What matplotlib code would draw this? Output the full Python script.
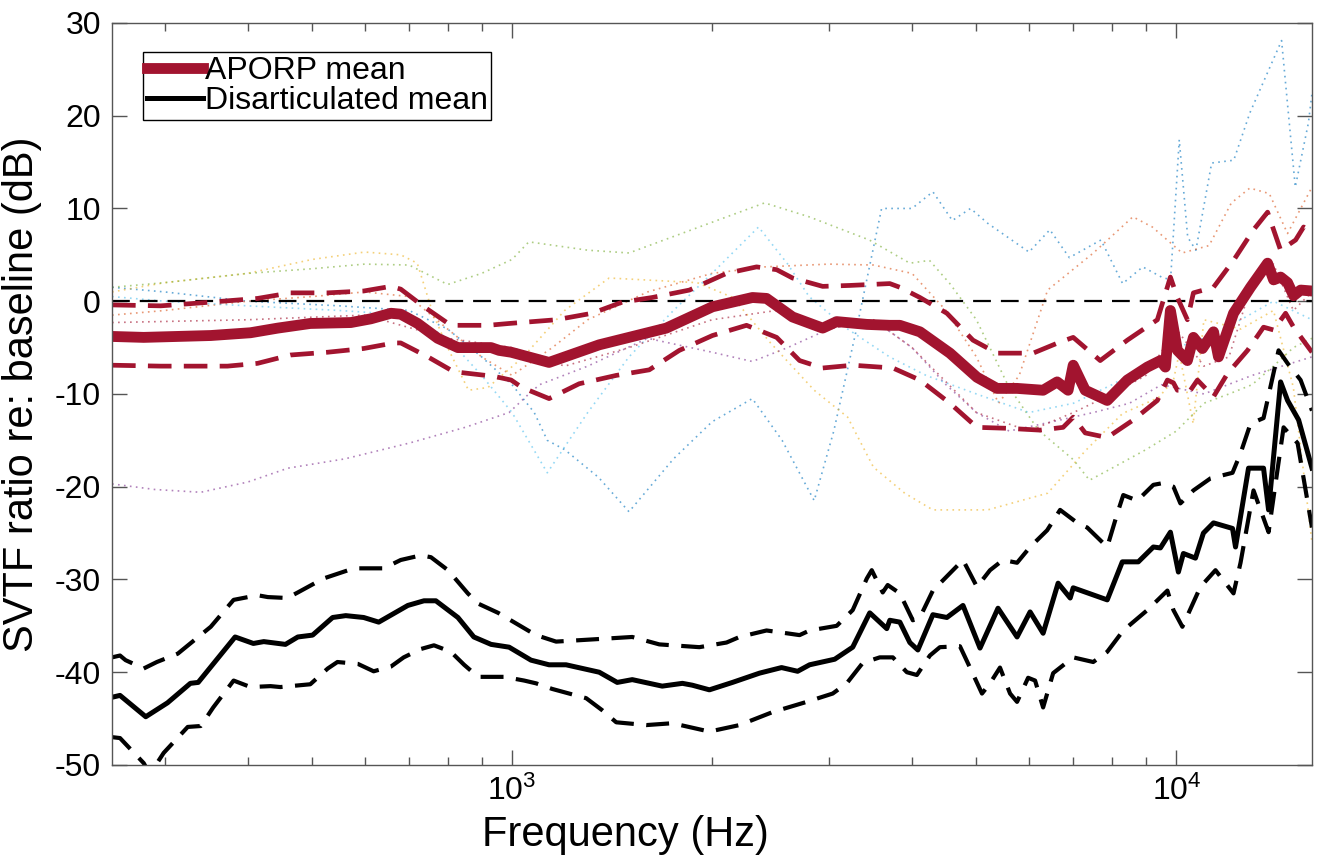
import matplotlib
matplotlib.use('Agg')
import matplotlib.pyplot as plt
from matplotlib.ticker import LogLocator, FuncFormatter, NullFormatter

# values: frequency in Hz, level in dB
aporp_f = [250, 279, 352, 404, 444, 497, 572, 613, 657, 680, 721, 773, 829, 930, 956, 997,
           1137, 1353, 1707, 2003, 2301, 2416, 2644, 2935, 3081, 3420, 3704, 3835, 4111, 4562,
           5010, 5370, 5757, 6301, 6615, 6871, 6994, 7291, 7869, 8436, 9044, 9461, 9626, 9795,
           10035, 10389, 10608, 10944, 11373, 11571, 12190, 12930, 13718, 14006, 14351, 14702,
           15012, 15381, 16000]
aporp_mean = [-3.8, -3.9, -3.7, -3.4, -2.9, -2.4, -2.3, -1.9, -1.3, -1.4, -2.4, -4.0, -5.0, -5.0, -5.3, -5.5,
              -6.6, -4.7, -2.9, -0.6, 0.4, 0.3, -1.7, -2.9, -2.2, -2.5, -2.6, -2.6, -3.3, -5.6,
              -8.2, -9.4, -9.4, -9.6, -8.7, -9.6, -6.9, -9.6, -10.7, -8.5, -7.1, -6.4, -7.1, -1.0,
              -5.3, -6.4, -3.9, -5.1, -3.3, -6.0, -1.3, 1.5, 4.1, 2.3, 2.6, 2.0,
              0.6, 1.2, 1.1]

aporp_hi_f = [250, 296, 352, 414, 464, 528, 598, 657, 680, 737, 809, 920, 990, 1165, 1320, 1465,
              1626, 1849, 2103, 2334, 2502, 2644, 2935, 3223, 3704, 3835, 4111, 4514, 4941, 5370,
              6086, 6683, 6994, 7680, 8436, 9362, 9795, 10035, 10389, 10608, 11373, 12190, 13065,
              13718, 14351, 15117, 15543, 16000]
aporp_hi = [-0.4, -0.5, -0.1, 0.3, 0.9, 0.9, 1.1, 1.6, 1.3, -0.6, -2.6, -2.6, -2.4, -2.0, -1.3, -0.1,
            0.4, 1.2, 3.0, 3.7, 3.4, 2.5, 1.6, 1.7, 1.9, 1.5, 0.4, -1.3, -4.2, -5.6,
            -5.6, -4.4, -3.9, -6.4, -4.2, -2.0, 2.6, 0.4, -2.0, 0.9, 1.5, 4.4, 7.7,
            9.6, 5.5, 6.6, 8.0, 7.5]

aporp_lo_f = [250, 296, 373, 414, 464, 528, 598, 664, 680, 747, 817, 939, 997, 1035, 1137, 1262,
              1435, 1609, 1786, 2003, 2254, 2502, 2709, 2935, 3257, 3743, 4111, 4562, 5010, 5559,
              6236, 6753, 6994, 7291, 7869, 8613, 9362, 9693, 9898, 10035, 10500, 10757, 11373,
              11938, 12797, 13527, 14006, 14601, 15012, 16000]
aporp_lo = [-6.9, -7.0, -7.0, -6.7, -5.8, -5.5, -5.1, -4.5, -4.5, -6.0, -7.6, -8.1, -8.5, -9.3, -10.5, -8.9,
            -8.0, -7.4, -5.3, -3.7, -2.6, -3.9, -6.4, -7.2, -6.9, -7.2, -8.5, -11.0, -13.6, -13.7,
            -13.9, -13.6, -12.5, -14.2, -14.7, -12.8, -10.7, -8.5, -8.8, -9.6, -9.6, -8.5, -10.3,
            -7.8, -5.3, -2.8, -3.1, -1.3, -2.8, -5.5]

dis_f = [250, 257, 281, 303, 328, 337, 383, 408, 423, 456, 476, 501, 537, 562, 598, 630, 697, 737,
         768, 829, 876, 930, 990, 1068, 1137, 1206, 1353, 1440, 1517, 1683, 1805, 1868, 1982, 2147,
         2358, 2545, 2691, 2805, 3060, 3257, 3455, 3665, 3704, 3835, 3970, 4082, 4300, 4514, 4773,
         5063, 5389, 5757, 6023, 6301, 6637, 6921, 6994, 7869, 8291, 8764, 9233, 9461, 9795, 10070,
         10246, 10683, 10982, 11373, 12148, 12275, 12841, 13527, 13765, 14351, 14702, 15275, 16000]
dis_mean = [-42.7, -42.5, -44.8, -43.3, -41.2, -41.1, -36.2, -36.9, -36.7, -37.0, -36.2, -36.0, -34.1, -33.9, -34.1, -34.6, -32.8, -32.3,
            -32.3, -34.1, -36.2, -37.0, -37.3, -38.7, -39.2, -39.2, -40.0, -41.1, -40.8, -41.5, -41.2, -41.4, -41.9, -41.1,
            -40.1, -39.5, -39.9, -39.2, -38.6, -37.3, -33.6, -35.3, -34.4, -34.6, -36.8, -37.6, -33.8, -34.1, -32.8,
            -37.4, -33.1, -36.2, -33.5, -35.8, -30.4, -32.0, -30.9, -32.2, -28.1, -28.1, -26.5, -26.6, -24.9, -29.2,
            -27.2, -27.7, -25.0, -23.9, -24.5, -26.5, -18.0, -18.0, -22.5, -8.7, -10.7, -12.8, -18.0]

dis_hi_f = [250, 257, 262, 279, 292, 314, 352, 381, 414, 429, 459, 476, 520, 578, 641, 680, 729, 755,
            801, 858, 889, 953, 1057, 1087, 1165, 1367, 1517, 1666, 1914, 2103, 2200, 2416, 2590, 2709,
            2805, 3081, 3257, 3420, 3479, 3614, 3677, 3835, 4011, 4111, 4300, 4773, 5010, 5242, 5483,
            5757, 6023, 6389, 6683, 7092, 7341, 7869, 8147, 8319, 8734, 9233, 9560, 9898, 10140, 10608,
            11255, 12148, 12490, 12930, 13527, 14250, 14702, 15381, 16000]
dis_hi = [-38.4, -38.2, -38.7, -39.6, -38.9, -38.0, -35.1, -32.2, -31.7, -31.9, -32.0, -31.4, -29.9, -28.8, -28.8, -27.9, -27.4, -27.6,
          -29.0, -31.5, -32.6, -33.6, -35.5, -36.0, -36.7, -36.4, -36.2, -37.0, -37.3, -36.8, -36.2, -35.5, -35.8, -36.0,
          -35.5, -35.0, -33.3, -29.9, -29.0, -31.4, -30.6, -31.5, -34.4, -34.1, -31.2, -27.9, -30.8, -29.0, -27.9,
          -28.2, -26.5, -24.7, -22.5, -23.9, -24.4, -26.5, -22.9, -20.9, -21.5, -19.8, -19.6, -20.0, -21.8, -20.4,
          -19.1, -18.5, -16.4, -13.2, -12.6, -5.3, -6.7, -8.5, -11.8]

dis_lo_f = [250, 257, 279, 285, 299, 325, 340, 355, 381, 404, 433, 448, 497, 528, 546, 586, 619, 657,
            687, 729, 763, 809, 847, 889, 973, 1043, 1087, 1149, 1293, 1367, 1435, 1593, 1743, 1982, 2200,
            2467, 2776, 3039, 3190, 3372, 3577, 3743, 3929, 4068, 4256, 4406, 4723, 4890, 5098, 5242, 5426,
            5619, 5757, 5982, 6128, 6301, 6524, 6994, 7496, 7869, 8319, 9044, 9693, 9898, 10210, 10869,
            11452, 12190, 12490, 13065, 13765, 14500, 15222, 16000]
dis_lo = [-47.0, -47.1, -49.8, -51.0, -48.7, -45.9, -45.8, -43.8, -40.9, -41.6, -41.5, -41.6, -41.3, -39.6, -38.9, -39.1, -39.9, -39.4,
          -38.4, -37.5, -37.1, -37.8, -39.2, -40.5, -40.5, -40.9, -41.2, -41.8, -42.8, -44.1, -45.4, -45.7, -45.5, -46.4, -45.7,
          -44.3, -43.2, -42.3, -41.2, -39.0, -38.4, -38.4, -40.0, -40.3, -38.2, -37.3, -37.2, -39.5, -42.3, -41.2, -39.5,
          -42.3, -43.2, -40.6, -40.9, -43.8, -40.1, -38.4, -38.9, -37.8, -35.5, -33.3, -31.2, -33.3, -35.1, -30.8,
          -29.0, -31.5, -28.2, -20.4, -24.9, -13.6, -15.3, -24.4]

# individual specimens (faint dotted traces)
spec_colors = ['#0072BD', '#D95319', '#EDB120', '#7E2F8E', '#77AC30', '#4DBEEE', '#A2142F']

spec1_f = [250, 300, 400, 550, 700, 800, 900, 1000, 1080, 1130, 1200, 1350, 1500, 1750, 2000, 2300,
           2550, 2850, 3050, 3300, 3600, 4000, 4300, 4600, 4900, 5200, 6000, 6450, 6900, 7700, 8300,
           8900, 9500, 9800, 10100, 10400, 10700, 11300, 12200, 12900, 14400, 15100, 15800, 16000]
spec1_db = [1.5, 1.0, 0.0, -0.5, -1.0, -3.0, -6.0, -9.0, -12.0, -15.0, -16.0, -19.0, -22.7, -17.0, -13.0, -10.5,
            -15.0, -21.5, -14.0, -3.0, 10.0, 10.0, 11.8, 8.7, 10.0, 8.4, 5.3, 7.7, 4.7, 6.6, 1.9,
            3.7, 2.6, 2.3, 17.4, 6.9, 5.5, 14.9, 15.2, 20.3, 28.1, 12.3, 19.2, 22.4]

spec2_f = [250, 300, 400, 500, 600, 700, 800, 900, 1000, 1150, 1300, 1600, 2000, 2400, 3000, 3500,
           4000, 4500, 5000, 5400, 5800, 6400, 7500, 8600, 9200, 10200, 11200, 12100, 12900, 13800,
           14700, 16000]
spec2_db = [-1.5, -1.0, 0.0, 0.5, 1.0, 0.5, -3.0, -6.0, -8.0, -5.0, -2.0, 1.0, 3.0, 3.7, 4.0, 3.9,
            3.0, -1.0, -6.0, -11.0, -8.0, 1.2, 5.2, 9.1, 8.0, 5.2, 6.0, 10.6, 12.2, 11.6,
            7.3, 12.3]

spec3_f = [250, 300, 400, 500, 600, 680, 720, 760, 800, 860, 920, 1040, 1200, 1400, 1900, 2150,
           2450, 2850, 3200, 3500, 3900, 4300, 5200, 6400, 7300, 8300, 9400, 9900, 10100, 10600,
           11000, 12500, 14000, 15000, 16000]
spec3_db = [1.0, 2.0, 3.0, 4.5, 5.3, 5.0, 4.1, -1.3, -5.0, -9.6, -9.3, -6.0, -1.0, 2.5, 2.0, 0.4,
            -4.5, -9.6, -12.5, -17.9, -20.7, -22.5, -22.5, -20.7, -16.1, -12.1, -10.4, -8.5, -5.6, -13.2,
            -2.0, -3.0, -1.0, -9.3, -26.0]

spec4_f = [250, 290, 340, 400, 460, 560, 700, 850, 990, 1060, 1100, 1300, 1600, 2000, 2300, 2600,
           3000, 3500, 4000, 4500, 5000, 5600, 6500, 7500, 8500, 9500, 11000, 13000, 16000]
spec4_db = [-19.7, -20.3, -20.6, -19.5, -18.0, -17.0, -15.3, -13.6, -12.0, -10.0, -9.0, -7.0, -4.0, -5.5, -6.5, -5.0,
            -3.0, -2.0, -5.0, -9.0, -12.0, -14.0, -13.0, -12.0, -11.0, -9.0, -10.0, -8.0, -6.0]

spec5_f = [250, 300, 400, 500, 600, 700, 800, 900, 1000, 1060, 1300, 1500, 1800, 2400, 2800, 3450,
           3970, 4250, 4560, 5000, 5600, 6200, 7000, 7400, 8000, 9000, 10000, 11000, 12000, 13000,
           14000, 15000, 16000]
spec5_db = [1.5, 2.0, 3.0, 3.5, 4.0, 3.9, 1.8, 3.0, 4.5, 6.4, 5.5, 5.2, 7.3, 10.6, 9.1, 6.6,
            4.1, 4.4, 1.9, -2.0, -9.3, -13.9, -17.1, -19.3, -18.0, -16.0, -14.0, -11.0, -10.0, -9.0,
            -7.0, -5.0, -4.0]

spec6_f = [250, 300, 400, 550, 700, 800, 900, 1000, 1130, 1300, 1500, 1750, 2000, 2350, 2600, 2800,
           3200, 3700, 4200, 5000, 6000, 7000, 8000, 9000, 10000, 11000, 12500, 14000, 16000]
spec6_db = [0.5, 0.0, -0.5, -1.0, -1.5, -4.0, -8.0, -12.0, -18.5, -12.0, -6.0, -1.0, 3.0, 8.0, 4.0, 0.5,
            -3.0, -6.0, -8.0, -10.0, -12.0, -11.0, -9.0, -7.0, -5.0, -4.0, -2.0, 0.0, -2.0]

spec7_f = [250, 400, 600, 800, 1000, 1200, 1500, 2000, 2500, 3000, 3500, 4000, 5000, 6000, 7000,
           8000, 9000, 10000, 11000, 12000, 13000, 14000, 15000, 16000]
spec7_db = [-2.3, -2.0, -1.5, -4.0, -5.0, -7.0, -5.0, -2.0, -1.0, -3.0, -2.0, -5.0, -12.0, -14.0, -12.0,
            -10.0, -8.0, -3.0, -7.0, -6.0, 2.0, 4.0, -1.0, 1.0]

specimens = [(spec1_f, spec1_db), (spec2_f, spec2_db), (spec3_f, spec3_db), (spec4_f, spec4_db),
             (spec5_f, spec5_db), (spec6_f, spec6_db), (spec7_f, spec7_db)]

red = '#A2142F'
plt.rcParams['font.family'] = ['Liberation Sans', 'DejaVu Sans']

fig = plt.figure(figsize=(13.29, 8.63), dpi=100)
ax = fig.add_axes([0.0843, 0.1136, 0.9029, 0.8598])

for (f, db), c in zip(specimens, spec_colors):
    ax.plot(f, db, linestyle=(0, (1, 2.6)), color=c, lw=1.2, alpha=0.6)

ax.axhline(0, color='black', lw=1.6, dashes=(8, 4.5))

for f, db in [(aporp_hi_f, aporp_hi), (aporp_lo_f, aporp_lo)]:
    ax.plot(f, db, color=red, lw=3.4, dashes=(5, 2.6))
for f, db in [(dis_hi_f, dis_hi), (dis_lo_f, dis_lo)]:
    ax.plot(f, db, color='black', lw=3.0, dashes=(5.5, 3))

ax.plot(aporp_f, aporp_mean, color=red, lw=7.8, solid_joinstyle='round', label='APORP mean')
ax.plot(dis_f, dis_mean, color='black', lw=3.6, label='Disarticulated mean')

ax.set_xscale('log')
ax.set_xlim(250, 16000)
ax.set_ylim(-50, 30)
ax.set_yticks(range(-50, 31, 10))
ax.yaxis.set_major_formatter(FuncFormatter(lambda v, p: f'{v:.0f}'))
ax.xaxis.set_minor_locator(LogLocator(base=10, subs=range(2, 10)))
ax.xaxis.set_minor_formatter(NullFormatter())

ax.tick_params(which='both', direction='in', top=True, right=True, color='#555555',
               labelsize=23, width=1.0)
ax.tick_params(which='major', length=11, pad=8)
ax.tick_params(which='minor', length=6)
for s in ax.spines.values():
    s.set_color('#555555')
    s.set_linewidth(1.0)

ax.set_xlabel('Frequency (Hz)', fontsize=30)
ax.set_ylabel('SVTF ratio re: baseline (dB)', fontsize=30)
ax.xaxis.set_label_coords(0.4275, -0.068)
ax.yaxis.set_label_coords(-0.058, 0.5)

leg = ax.legend(loc='upper left', bbox_to_anchor=(0.026, 0.961), frameon=True, fancybox=False,
                edgecolor='black', framealpha=1, fontsize=23, handlelength=1.75, handletextpad=0.05,
                borderpad=0.12, labelspacing=0.0, borderaxespad=0)
leg.get_frame().set_linewidth(1.0)

fig.savefig('out.png', dpi=100)
